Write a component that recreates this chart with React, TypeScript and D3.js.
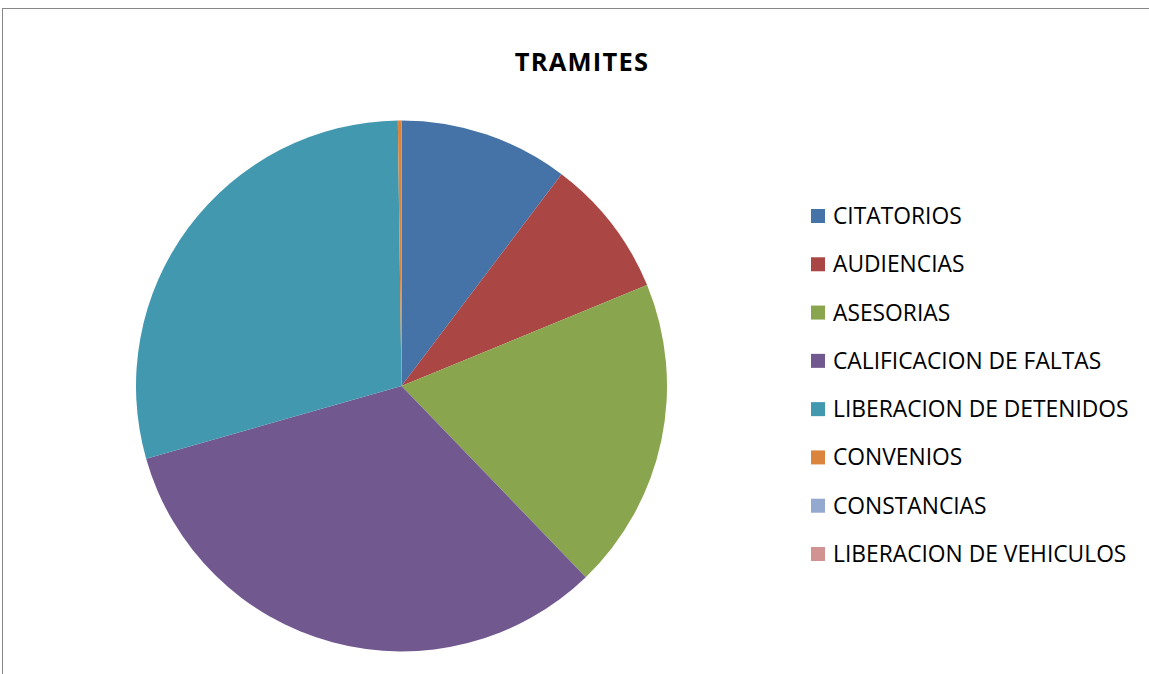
import React from "react";
import * as d3 from "d3";

const categories = [
  "CITATORIOS",
  "AUDIENCIAS",
  "ASESORIAS",
  "CALIFICACION DE FALTAS",
  "LIBERACION DE DETENIDOS",
  "CONVENIOS",
  "CONSTANCIAS",
  "LIBERACION DE VEHICULOS",
];
const values = [10.3, 8.5, 19.0, 32.8, 29.2, 0.22, 0, 0];
const colors = ["#4572A7", "#AA4643", "#89A54E", "#71588F", "#4198AF", "#DB843D", "#93A9CF", "#D19392"];
const title = "TRAMITES";

export default function App() {
  const W = 1149, H = 674;
  const cx = 401.5, cy = 386, r = 265.5;
  const pie = d3.pie<number>().sort(null).value((d) => d)(values);
  const arc = d3.arc<d3.PieArcDatum<number>>().innerRadius(0).outerRadius(r);
  const legendY = d3.scaleLinear().domain([0, categories.length - 1]).range([216, 554]);
  const font = "'Open Sans', sans-serif";
  return (
    <svg width={W} height={H} style={{ position: "absolute", left: 0, top: 0, display: "block" }}>
      <rect x={0} y={0} width={W} height={H} fill="#fff" />
      <rect x={2.5} y={8.5} width={W + 10} height={H + 10} fill="#fff" stroke="#868686" strokeWidth={1} />
      <text x={582} y={71} textAnchor="middle" fontFamily={font} fontWeight="bold" fontSize={25.5} letterSpacing={1.2} fill="#000">
        {title}
      </text>
      <g transform={`translate(${cx},${cy})`}>
        {pie.map((p, i) =>
          p.value > 0 ? <path key={i} d={arc(p) || ""} fill={colors[i]} /> : null
        )}
      </g>
      {categories.map((c, i) => (
        <g key={c} transform={`translate(811,${legendY(i)})`}>
          <rect x={0} y={-7} width={14} height={14} fill={colors[i]} />
          <text x={22} y={8} fontFamily={font} fontSize={22.8} fill="#000">
            {c}
          </text>
        </g>
      ))}
    </svg>
  );
}
